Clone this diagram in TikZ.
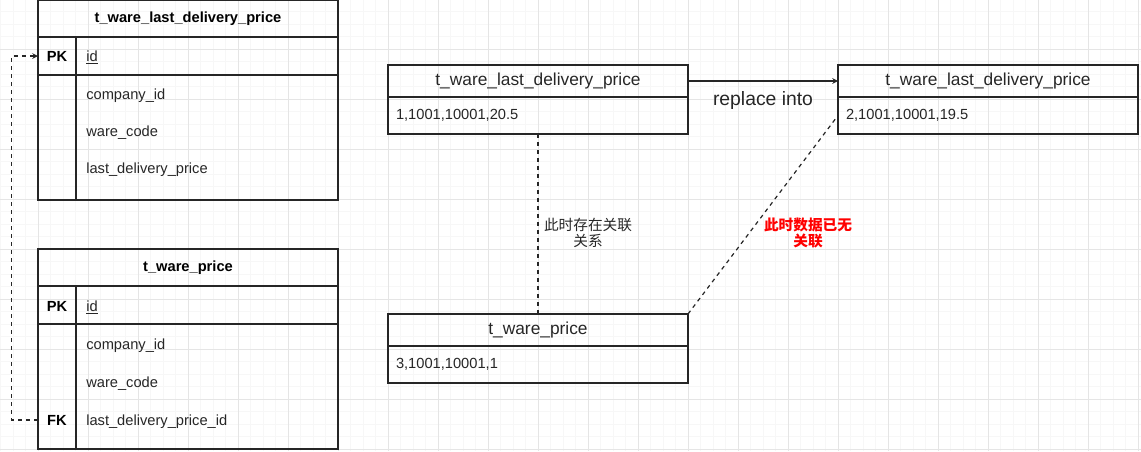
\documentclass[tikz,border=0pt]{standalone}
\usepackage{fontspec}
\setmainfont{Liberation Sans}
\newfontfamily\cjk{Noto Sans CJK SC}
\usetikzlibrary{arrows, positioning}

\begin{document}
\begin{tikzpicture}[
        x = 0.75pt, y = -0.75pt,
        cell/.style  = {rectangle, draw=black!85, line width=0.9pt, inner sep=0pt, outer sep=0pt, anchor=north west},
        head/.style  = {cell, minimum width=225pt, minimum height=27.75pt, font=\fontsize{11}{13}\selectfont\bfseries},
        keyrow/.style = {cell, minimum width=28.5pt, minimum height=28.5pt},
        fldrow/.style = {cell, minimum width=196.5pt, minimum height=28.5pt},
        keycol/.style = {cell, minimum width=28.5pt, minimum height=93.75pt},
        fldcol/.style = {cell, minimum width=196.5pt, minimum height=93.75pt},
        key/.style   = {anchor=base, minimum width=28.5pt, inner sep=0pt, font=\fontsize{11}{13}\selectfont\bfseries},
        field/.style = {anchor=base west, inner sep=0pt, text=black!85, font=\fontsize{11}{13}\selectfont},
        rtitle/.style = {cell, minimum width=225pt, minimum height=24pt, text=black!85, font=\fontsize{13}{15}\selectfont},
        rvalue/.style = {cell, minimum width=225pt, minimum height=27.75pt, text width=213pt, inner xsep=6pt, align=left, text=black!85, font=\fontsize{11}{13}\selectfont},
        note/.style  = {align=center, font=\cjk\fontsize{11}{11.5}\selectfont},
        link/.style  = {black!85, line width=0.9pt, dash pattern=on 3pt off 3pt}
    ]

    \useasboundingbox (0,0) rectangle (1141,451);

    % background grid
    \foreach \gx in {0.5, 13, ..., 1141} \draw[black!3, line width=0.6pt] (\gx,0) -- (\gx,451);
    \foreach \gy in {-1, 11.5, ..., 451} \draw[black!3, line width=0.6pt] (0,\gy) -- (1141,\gy);
    \foreach \gx in {38, 88, ..., 1141} \draw[black!10, line width=0.7pt] (\gx,0) -- (\gx,451);
    \foreach \gy in {49, 99, ..., 451} \draw[black!10, line width=0.7pt] (0,\gy) -- (1141,\gy);

    % table t_ware_last_delivery_price
    \node[head]   (ldp)    at (38,0)              {t\_ware\_last\_delivery\_price};
    \node[keyrow] (ldpk)   at (ldp.south west)    {};
    \node[fldrow] (ldpid)  at (ldpk.north east)   {};
    \node[keycol] (ldpkc)  at (ldpk.south west)   {};
    \node[fldcol] (ldpfc)  at (ldpkc.north east)  {};
    \node[key]    (ldpkey) at (57,61)             {PK};
    \node[field]  (ldpf1)  at (86,61)             {\underline{id}};
    \node[field]  (ldpf2)  at (86,99)             {company\_id};
    \node[field]  (ldpf3)  at (86,136)            {ware\_code};
    \node[field]  (ldpf4)  at (86,173)            {last\_delivery\_price};

    % table t_ware_price
    \node[head]   (wp)     at (38,249)            {t\_ware\_price};
    \node[keyrow] (wpk)    at (wp.south west)     {};
    \node[fldrow] (wpid)   at (wpk.north east)    {};
    \node[keycol] (wpkc)   at (wpk.south west)    {};
    \node[fldcol] (wpfc)   at (wpkc.north east)   {};
    \node[key]    (wpkey)  at (57,311)            {PK};
    \node[field]  (wpf1)   at (86,311)            {\underline{id}};
    \node[field]  (wpf2)   at (86,349)            {company\_id};
    \node[field]  (wpf3)   at (86,387)            {ware\_code};
    \node[key]    (wpfk)   at (57,425)            {FK};
    \node[field]  (wpf4)   at (86,425)            {last\_delivery\_price\_id};

    \draw[link, -stealth] (wpfk.west) -- ++(-26,0) |- (ldpk.west);

    % rows
    \node[rtitle] (a)  at (388,65)         {t\_ware\_last\_delivery\_price};
    \node[rvalue] (av) at (a.south west)   {1,1001,10001,20.5};
    \node[rtitle] (b)  at (838,65)         {t\_ware\_last\_delivery\_price};
    \node[rvalue] (bv) at (b.south west)   {2,1001,10001,19.5};
    \node[rtitle] (c)  at (388,314)        {t\_ware\_price};
    \node[rvalue] (cv) at (c.south west)   {3,1001,10001,1};

    \draw[black!85, line width=0.9pt, -stealth] (a.east) -- (b.west)
        node[midway, yshift=-14.25pt, text=black!85, font=\fontsize{14.5}{16}\selectfont] {replace into};
    \draw[link] (av.south) -- (c.north);
    \draw[link] (c.north east) -- (bv.west);

    \node[note, text=black!85] (n1) at (588,233) {此时存在关联\\关系};
    \node[note, text=red, font=\cjk\fontsize{11}{11.5}\selectfont\bfseries] (n2) at (808,233) {此时数据已无\\关联};

\end{tikzpicture}
\end{document}
